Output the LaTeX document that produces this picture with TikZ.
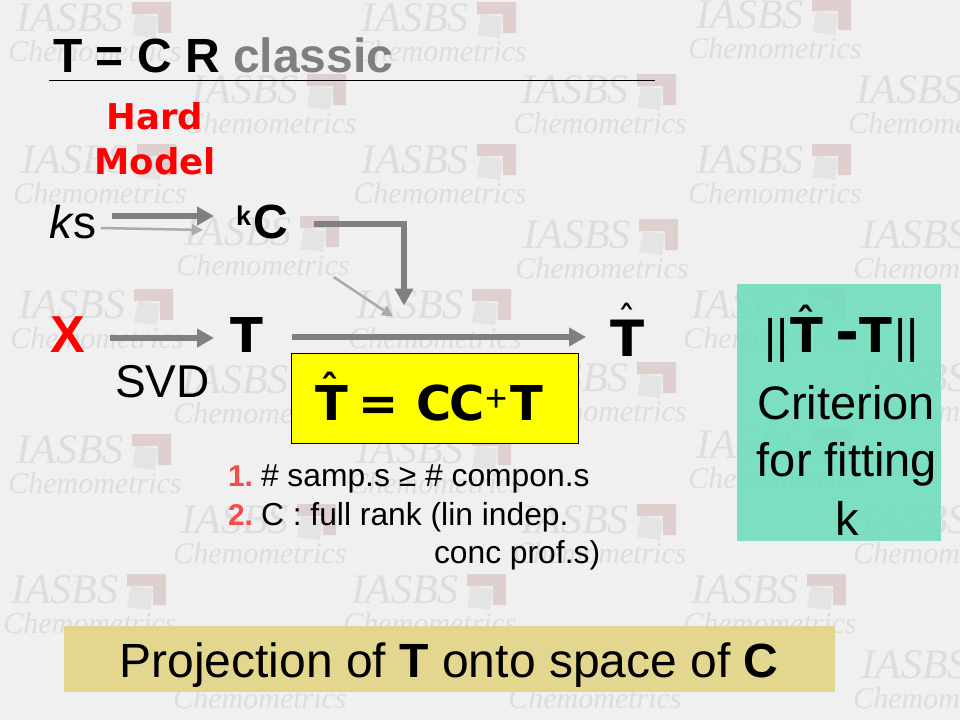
\documentclass[tikz,border=0pt]{standalone}
\usepackage{fontspec}
\setmainfont{Liberation Sans}
\newfontfamily\dvb{DejaVu Sans}[BoldFont={DejaVu Sans Bold}]
\newfontfamily\lser{Liberation Serif}
\usetikzlibrary{arrows.meta,calc}
\definecolor{bgc}{HTML}{F0F0F0}
\definecolor{wmg}{HTML}{DDDDDD}
\definecolor{wmr}{HTML}{E0CFCF}
\definecolor{wms}{HTML}{E4E4E4}
\definecolor{arrowg}{HTML}{808080}
\definecolor{arrowl}{HTML}{ABABAB}
\definecolor{titleg}{HTML}{7F7F7F}
\definecolor{teal}{HTML}{6CDDBC}
\definecolor{band}{HTML}{E3D68F}
\definecolor{yel}{HTML}{FFFF00}
\definecolor{numr}{HTML}{F64C4C}
\newcommand{\fs}[1]{\fontsize{#1}{#1}\selectfont}
\tikzset{
  lbl/.style={inner sep=0pt,outer sep=0pt,anchor=base west,text=black},
  lblc/.style={inner sep=0pt,outer sep=0pt,anchor=base,text=black},
  wmtop/.style={inner sep=0pt,text=wmg,font=\lser\itshape\fs{42}},
  wmbot/.style={inner sep=0pt,text=wmg,font=\lser\itshape\fs{30}},
  bigarrow/.style={draw=arrowg,line width=6pt,-{Triangle[length=17pt,width=18pt]}},
  thinarrow/.style={draw=arrowl,line width=2.5pt,-{Triangle[length=11pt,width=11pt]}},
  bb/.style={font=\dvb\bfseries\fs{48}},
  hatmark/.style={inner sep=0pt,outer sep=0pt,anchor=base,text=black,font=\dvb\bfseries\fs{38}},
  cond/.style={font=\fs{31.8}},
  condnum/.style={font=\bfseries\fs{30},text=numr},
  crit/.style={font=\fs{47}},
}
\newcommand{\wm}[3]{%
  \begin{scope}[shift={(#2,#3)}]
    \fill[wmr] (62,-16) -- (101,-16) -- (101,15) -- (88,15) -- (88,-4) -- (62,-4) -- cycle;
    \fill[wms] (66,-4) -- (88,-1) -- (85,20) -- (62,17) -- cycle;
    \node[wmtop] (wmi#1) at (0,0) {IASBS};
    \node[wmbot] (wmc#1) at (25,33) {Chemometrics};
  \end{scope}}
\begin{document}
\begin{tikzpicture}[x=1pt,y=-1pt]
\path[use as bounding box] (0,0) rectangle (960,720);
\fill[bgc] (0,0) rectangle (960,720);
\begin{scope}
\clip (0,0) rectangle (960,720);
\wm{a}{70}{18}\wm{b}{415}{18}\wm{c}{750}{15}
\wm{d}{245}{90}\wm{e}{575}{90}\wm{f}{910}{90}
\wm{g}{75}{160}\wm{h}{415}{160}\wm{i}{750}{160}
\wm{j}{238}{232}\wm{k}{577}{235}\wm{l}{915}{235}
\wm{m}{72}{305}\wm{n}{410}{305}\wm{o}{745}{305}
\wm{p}{235}{380}\wm{q}{575}{378}\wm{r}{915}{378}
\wm{s}{70}{450}\wm{t}{410}{450}\wm{u}{750}{445}
\wm{v}{235}{520}\wm{w}{575}{520}\wm{x}{915}{520}
\wm{y}{65}{590}\wm{z}{405}{590}\wm{aa}{745}{590}
\wm{ab}{235}{665}\wm{ac}{570}{665}\wm{ad}{915}{665}
\end{scope}
% panels
\fill[teal,fill opacity=0.88] (737,284) rectangle (941,541);
\node[draw=black,line width=1pt,fill=yel,inner sep=0pt,minimum width=287pt,minimum height=90pt] (formula) at (435,398) {};
\node[fill=band,inner sep=0pt,minimum width=771pt,minimum height=66pt] (bandbox) at (449.5,659) {};
% title
\node[lbl,font=\bfseries\fs{48}] (title) at (53,72) {T = C R \textcolor{titleg}{classic}};
\draw[black,line width=1pt] (49,80) -- (655,80);
\node[lblc,font=\dvb\bfseries\fs{35.5},text=red] (hard) at (155,129.5) {Hard};
\node[lblc,font=\dvb\bfseries\fs{35.5},text=red] (model) at (155,174) {Model};
% main row
\node[lbl,font=\fs{46}] (ks) at (49,238) {\textit{k}s};
\node[lbl,font=\bfseries\fs{27}] (ksup) at (236,225) {k};
\node[lbl,font=\bfseries\fs{48}] (kC) at (253,238) {C};
\node[lbl,font=\bfseries\fs{52},text=red] (X) at (50,352) {X};
\node[lbl,bb] (T) at (230,352) {T};
\node[lbl,font=\dvb\bfseries\fs{50}] (That) at (610,356) {T};
\node[hatmark,font=\dvb\fs{38}] (thathat) at (627,333) {ˆ};
\node[lbl,font=\fs{46}] (svd) at (115,397) {SVD};
% formula
\node[lbl,bb] (fT) at (315,420) {T};
\node[hatmark] (fhat) at (330,402) {ˆ};
\node[lbl,bb] (feq) at (358,420) {=};
\node[lbl,bb] (fcc) at (416,420) {C\kern-1.5pt C};
\node[lbl,font=\fs{38}] (fplus) at (485,411) {+};
\node[lbl,bb] (fT2) at (510,420) {T};
% conditions
\node[lbl,condnum] (n1) at (228,486) {1.};
\node[lbl,cond] (c1) at (261,486) {\# samp.s ≥ \# compon.s};
\node[lbl,condnum] (n2) at (228,525) {2.};
\node[lbl,cond] (c2) at (261,525) {C : full rank (lin indep.};
\node[lbl,cond] (c3) at (434,563) {conc prof.s)};
% criterion panel
\node[lbl,crit] (barl) at (764,352) {||};
\node[lbl,bb] (nT) at (790,352) {T};
\node[hatmark] (nhat) at (806,335) {ˆ};
\node[lbl,font=\dvb\bfseries\fs{58}] (nminus) at (835,352) {-};
\node[lbl,bb] (nT2) at (859,352) {T};
\node[lbl,crit] (barr) at (894,352) {||};
\node[lblc,crit] (crit1) at (846,419) {Criterion};
\node[lblc,crit] (crit2) at (847,476) {for fitting};
\node[lblc,crit] (crit3) at (847,535) {k};
% band text
\node[lblc,font=\fs{48}] (proj) at (449,677) {Projection of \textbf{T} onto space of \textbf{C}};
% connectors
\draw[bigarrow] ([shift={(15pt,22pt)}]ks.base east) -- ([shift={(-22pt,9pt)}]ksup.base west);
\draw[thinarrow] ([shift={(4pt,10pt)}]ks.base east) -- ([shift={(-33pt,-5pt)}]ksup.base west);
\draw[bigarrow] ([shift={(26pt,14pt)}]kC.base east) -| ([shift={(-31pt,47pt)}]formula.north);
\draw[thinarrow] ([shift={(46pt,-39pt)}]kC.base east) -- ([shift={(-42pt,36pt)}]formula.north);
\draw[bigarrow] ([shift={(25pt,14pt)}]X.base east) -- ([shift={(-16pt,14pt)}]T.base west);
\draw[bigarrow] ([shift={(29pt,15pt)}]T.base east) -- ([shift={(-24pt,19pt)}]That.base west);
\end{tikzpicture}
\end{document}
